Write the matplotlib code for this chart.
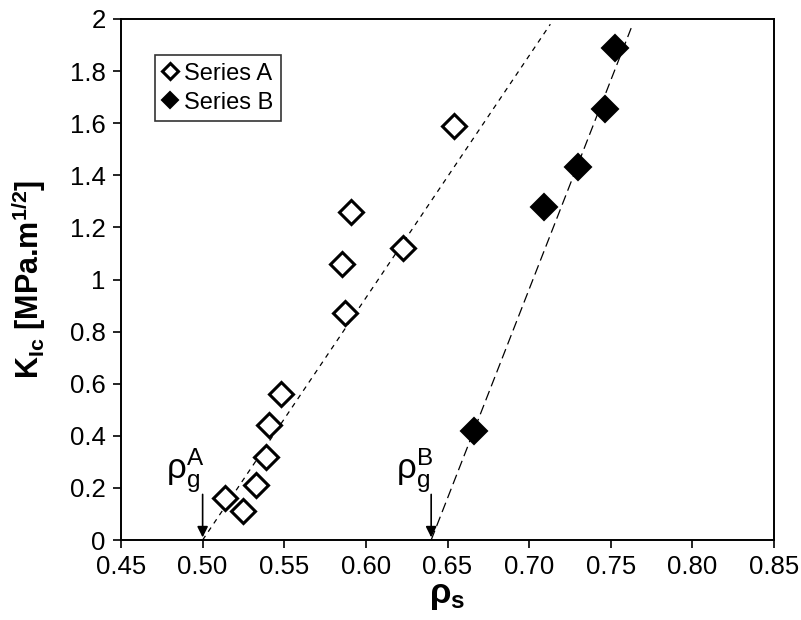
import matplotlib
matplotlib.use("Agg")
import matplotlib.pyplot as plt

plt.rcParams['font.family'] = ['Liberation Sans', 'DejaVu Sans']
plt.rcParams['mathtext.fontset'] = 'custom'
plt.rcParams['mathtext.rm'] = 'Liberation Sans'
plt.rcParams['mathtext.bf'] = 'Liberation Sans:bold'
plt.rcParams['mathtext.it'] = 'Liberation Sans:italic'
plt.rcParams['mathtext.default'] = 'regular'

# Data
rho_A = [0.654, 0.591, 0.5855, 0.6225, 0.5874, 0.548, 0.5405, 0.539, 0.5325, 0.514, 0.5245]
K_A = [1.59, 1.26, 1.06, 1.12, 0.87, 0.56, 0.44, 0.32, 0.21, 0.16, 0.11]
rho_B = [0.666, 0.709, 0.730, 0.7467, 0.7526]
K_B = [0.42, 1.28, 1.43, 1.655, 1.89]

fitA_x = [0.500, 0.713]
fitA_y = [0.0, 1.98]
fitB_x = [0.640, 0.7625]
fitB_y = [0.0, 1.965]

rho_gA = 0.50
rho_gB = 0.64

xticks = [0.45, 0.50, 0.55, 0.60, 0.65, 0.70, 0.75, 0.80, 0.85]
yticks = [0, 0.2, 0.4, 0.6, 0.8, 1.0, 1.2, 1.4, 1.6, 1.8, 2.0]

fig = plt.figure(figsize=(8.01, 6.20), dpi=100)
ax = fig.add_axes([121/801, 1-540/620, (774-121)/801, (540-19)/620])

ax.plot(fitA_x, fitA_y, color='black', lw=0.9, dashes=(4, 4), zorder=1)
ax.plot(fitB_x, fitB_y, color='black', lw=0.9, dashes=(8, 4), zorder=1)

ax.plot(rho_A, K_A, linestyle='none', marker='D', ms=12.5, mfc='white', mec='black',
        mew=2.2, label='Series A', zorder=3)
ax.plot(rho_B, K_B, linestyle='none', marker='D', ms=13, mfc='black', mec='black',
        mew=1.5, label='Series B', zorder=3)

for xg, lab in [(rho_gA, 'A'), (rho_gB, 'B')]:
    ax.annotate('', xy=(xg, 0.01), xytext=(xg, 0.175),
                arrowprops=dict(arrowstyle='-|>', color='black', lw=1.2,
                                mutation_scale=16, shrinkA=0, shrinkB=0))
    ax.text(xg - 0.0105, 0.17, r'$\rho_g^%s$' % lab, fontsize=25, ha='center', va='bottom')

ax.set_xlim(0.45, 0.85)
ax.set_ylim(0, 2)
ax.set_xticks(xticks)
ax.set_xticklabels(['%.2f' % v for v in xticks])
ax.set_yticks(yticks)
ax.set_yticklabels(['%g' % v for v in yticks])
ax.tick_params(direction='out', length=6, width=1.2, labelsize=18.5, pad=5)
for s in ax.spines.values():
    s.set_linewidth(1.4)

ax.set_xlabel(r'$\rho_s$', fontsize=25, fontweight='bold', labelpad=0)
ax.set_ylabel(r'K$_{Ic}$ [MPa.m$^{1/2}$]', fontsize=22, fontweight='bold', labelpad=16)

leg = ax.legend(loc='upper left', bbox_to_anchor=(0.052, 0.93), fontsize=17,
                markerscale=0.62, handlelength=0.7, handletextpad=0.25,
                frameon=True, fancybox=False, borderpad=0.3, labelspacing=0.3,
                borderaxespad=0)
leg.get_frame().set_edgecolor('black')
leg.get_frame().set_linewidth(1.2)

fig.savefig('out.png', dpi=100)
